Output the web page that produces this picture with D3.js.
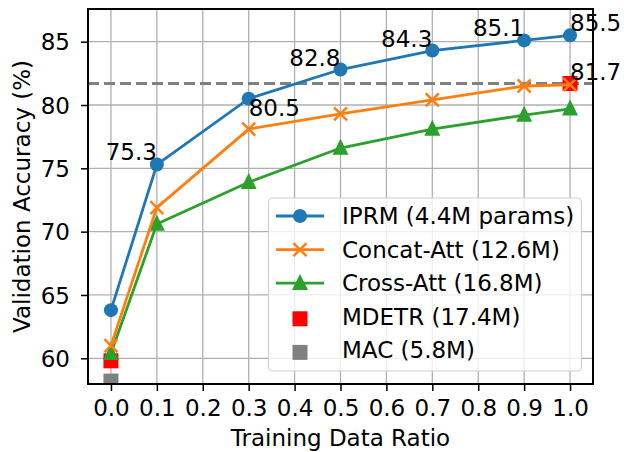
<!DOCTYPE html>
<html>
<head>
<meta charset="utf-8">
<script src="https://cdn.jsdelivr.net/npm/d3@7"></script>
<style>
  body { margin: 0; background: #fff; }
  text { font-family: "DejaVu Sans", sans-serif; fill: #000; }
</style>
</head>
<body>
<div id="chart"></div>
<script>
// data
var ratios = [0.0, 0.1, 0.3, 0.5, 0.7, 0.9, 1.0];
var iprm = [63.8, 75.3, 80.5, 82.8, 84.3, 85.1, 85.5];
var concatAtt = [61.0, 71.9, 78.1, 79.3, 80.4, 81.5, 81.6];
var crossAtt = [60.4, 70.6, 73.9, 76.6, 78.1, 79.2, 79.7];
var mdetrX = [0.0, 1.0];
var mdetr = [59.8, 81.7];
var macX = [0.0];
var mac = [58.2];
var mdetrRef = 81.7;
var xTicks = [0, 0.1, 0.2, 0.3, 0.4, 0.5, 0.6, 0.7, 0.8, 0.9, 1.0];
var yTicks = [60, 65, 70, 75, 80, 85];
var seriesNames = ["IPRM (4.4M params)", "Concat-Att (12.6M)", "Cross-Att (16.8M)", "MDETR (17.4M)", "MAC (5.8M)"];

var W = 624, H = 452;
var mLeft = 88, mRight = 593, mTop = 9, mBottom = 384;
var fs = 23;

var svg = d3.select("#chart").append("svg")
  .attr("width", W)
  .attr("height", H);

var x = d3.scaleLinear().domain([-0.05, 1.05]).range([mLeft, mRight]);
var y = d3.scaleLinear().domain([57.97, 87.58]).range([mBottom, mTop]);

svg.append("defs").append("clipPath").attr("id", "clip")
  .append("rect")
  .attr("x", mLeft).attr("y", mTop)
  .attr("width", mRight - mLeft).attr("height", mBottom - mTop);

// grid
var grid = svg.append("g").attr("stroke", "#b0b0b0").attr("stroke-width", 1.3);
grid.selectAll(".gx").data(xTicks).enter().append("line")
  .attr("x1", function (d) { return x(d); }).attr("x2", function (d) { return x(d); })
  .attr("y1", mTop).attr("y2", mBottom);
grid.selectAll(".gy").data(yTicks).enter().append("line")
  .attr("x1", mLeft).attr("x2", mRight)
  .attr("y1", function (d) { return y(d); }).attr("y2", function (d) { return y(d); });

// axes
var xAxis = svg.append("g")
  .attr("transform", "translate(0," + mBottom + ")")
  .call(d3.axisBottom(x).tickValues(xTicks).tickFormat(d3.format(".1f")).tickSizeOuter(0).tickSize(7).tickPadding(9));
var yAxis = svg.append("g")
  .attr("transform", "translate(" + mLeft + ",0)")
  .call(d3.axisLeft(y).tickValues(yTicks).tickSizeOuter(0).tickSize(7).tickPadding(11));
[xAxis, yAxis].forEach(function (a) {
  a.select(".domain").remove();
  a.selectAll(".tick line").attr("stroke", "#000").attr("stroke-width", 1.5);
  a.selectAll(".tick text").attr("font-size", fs).attr("font-family", "DejaVu Sans").attr("fill", "#000");
});
yAxis.selectAll(".tick text").attr("dy", "0.36em");

var plot = svg.append("g").attr("clip-path", "url(#clip)");

// reference line
plot.append("line")
  .attr("x1", mLeft).attr("x2", mRight)
  .attr("y1", y(mdetrRef)).attr("y2", y(mdetrRef))
  .attr("stroke", "#808080").attr("stroke-width", 3)
  .attr("stroke-dasharray", "11,5");

function square(g, xs, ys, color) {
  g.selectAll(null).data(ys).enter().append("rect")
    .attr("x", function (d, i) { return x(xs[i]) - 7.5; })
    .attr("y", function (d) { return y(d) - 7.5; })
    .attr("width", 15).attr("height", 15)
    .attr("fill", color);
}
square(plot, macX, mac, "#808080");
square(plot, mdetrX, mdetr, "#ff0000");

var line = d3.line()
  .x(function (d, i) { return x(ratios[i]); })
  .y(function (d) { return y(d); });

function triPath(s) {
  var h = s;
  return "M0," + (-h * 0.58) + "L" + (s / 2) + "," + (h * 0.42) + "L" + (-s / 2) + "," + (h * 0.42) + "Z";
}

function drawMarker(g, kind, color, cx, cy) {
  if (kind === "o") {
    g.append("circle").attr("cx", cx).attr("cy", cy).attr("r", 7).attr("fill", color);
  } else if (kind === "x") {
    var s = 6.5;
    g.append("path")
      .attr("d", "M" + (cx - s) + "," + (cy - s) + "L" + (cx + s) + "," + (cy + s) +
        "M" + (cx - s) + "," + (cy + s) + "L" + (cx + s) + "," + (cy - s))
      .attr("stroke", color).attr("stroke-width", 2.5).attr("fill", "none");
  } else if (kind === "^") {
    g.append("path").attr("transform", "translate(" + cx + "," + cy + ")")
      .attr("d", triPath(16)).attr("fill", color);
  }
}

var series = [
  { vals: crossAtt, color: "#2ca02c", marker: "^" },
  { vals: concatAtt, color: "#ff7f0e", marker: "x" },
  { vals: iprm, color: "#1f77b4", marker: "o" }
];
series.forEach(function (s) {
  plot.append("path").datum(s.vals)
    .attr("d", line)
    .attr("fill", "none").attr("stroke", s.color).attr("stroke-width", 2.8);
  s.vals.forEach(function (v, i) {
    drawMarker(plot, s.marker, s.color, x(ratios[i]), y(v));
  });
});

// value labels for IPRM and MDETR
var labels = [
  { xv: 0.1, yv: 75.3, anchor: "end", dy: -5 },
  { xv: 0.3, yv: 80.5, anchor: "start", dy: 17 },
  { xv: 0.5, yv: 82.8, anchor: "end", dy: -4 },
  { xv: 0.7, yv: 84.3, anchor: "end", dy: -4 },
  { xv: 0.9, yv: 85.1, anchor: "end", dy: -4.5 },
  { xv: 1.0, yv: 85.5, anchor: "start", dy: -4.5 },
  { xv: 1.0, yv: mdetrRef, anchor: "start", dy: -3 }
];
svg.selectAll(".vlab").data(labels).enter().append("text")
  .attr("x", function (d) { return x(d.xv); })
  .attr("y", function (d) { return y(d.yv) + d.dy; })
  .attr("text-anchor", function (d) { return d.anchor; })
  .attr("font-size", fs)
  .text(function (d) { return d.yv.toFixed(1); });

// spines
svg.append("rect")
  .attr("x", mLeft).attr("y", mTop)
  .attr("width", mRight - mLeft).attr("height", mBottom - mTop)
  .attr("fill", "none").attr("stroke", "#000").attr("stroke-width", 2);

// legend
var lg = svg.append("g");
lg.append("rect")
  .attr("x", 268.5).attr("y", 198).attr("width", 313).attr("height", 173)
  .attr("rx", 4)
  .attr("fill", "#fff").attr("fill-opacity", 0.8)
  .attr("stroke", "#d0d0d0").attr("stroke-width", 1.2);

var legendItems = [
  { color: "#1f77b4", marker: "o", line: true },
  { color: "#ff7f0e", marker: "x", line: true },
  { color: "#2ca02c", marker: "^", line: true },
  { color: "#ff0000", marker: "s", line: false },
  { color: "#808080", marker: "s", line: false }
];
legendItems.forEach(function (it, i) {
  var cy = 216 + i * 33.6;
  if (it.line) {
    lg.append("line").attr("x1", 276).attr("x2", 324).attr("y1", cy).attr("y2", cy)
      .attr("stroke", it.color).attr("stroke-width", 2.8);
    drawMarker(lg, it.marker, it.color, 300, cy);
  } else {
    lg.append("rect").attr("x", 292.5).attr("y", cy + 2 - 7.5).attr("width", 15).attr("height", 15)
      .attr("fill", it.color);
  }
  lg.append("text").attr("x", 342).attr("y", cy + 8).attr("font-size", fs).text(seriesNames[i]);
});

// axis titles
svg.append("text")
  .attr("x", (mLeft + mRight) / 2).attr("y", 446)
  .attr("text-anchor", "middle").attr("font-size", fs)
  .text("Training Data Ratio");
svg.append("text")
  .attr("transform", "translate(30," + ((mTop + mBottom) / 2) + ") rotate(-90)")
  .attr("text-anchor", "middle").attr("font-size", fs)
  .text("Validation Accuracy (%)");
</script>
</body>
</html>
